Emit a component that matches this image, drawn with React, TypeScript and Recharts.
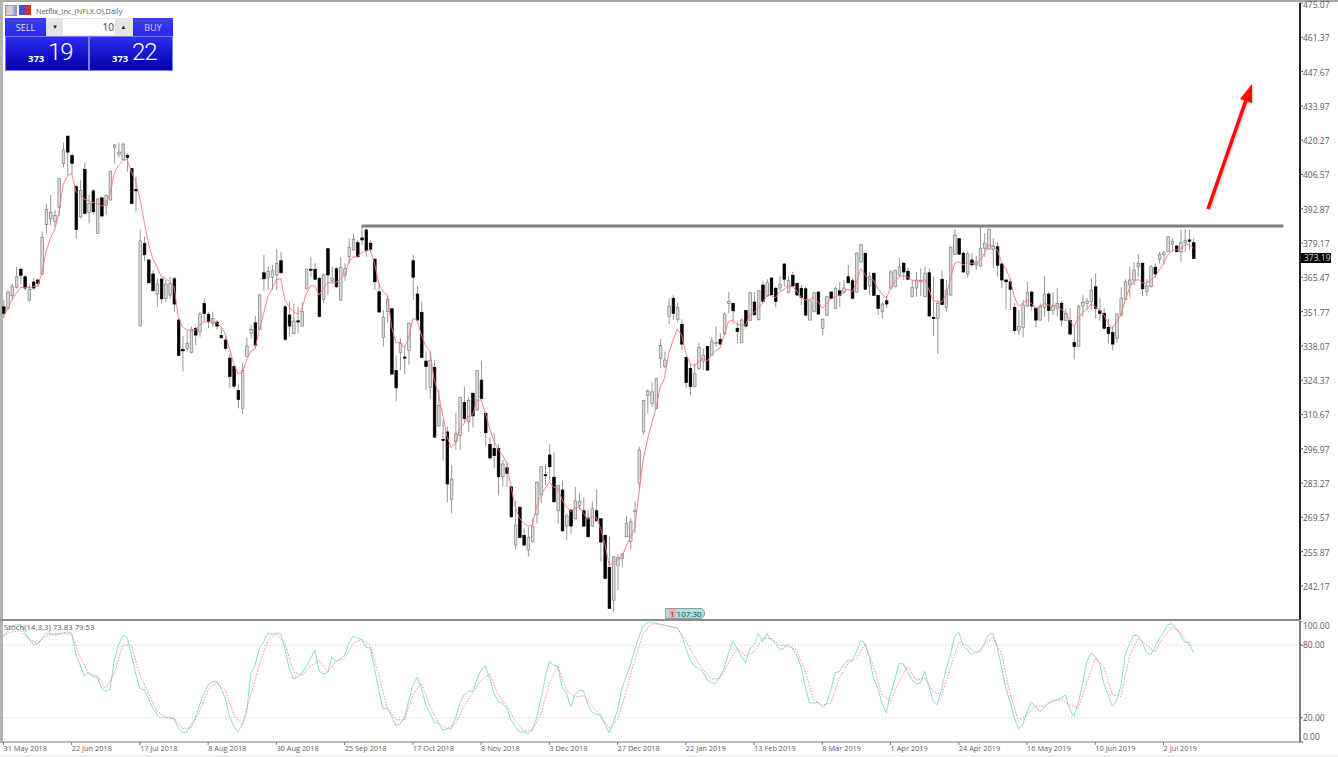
import { Bar, ComposedChart, Line, LineChart, ReferenceLine, XAxis, YAxis } from "recharts";

// daily candles, 31 May 2018 .. mid Jul 2019
const opens = [353.7,353.1,358.1,361.5,368.7,365.7,356.4,363.6,364.4,366.8,386.5,388.8,387.8,393.4,411,421.9,414.2,401.7,389.7,408.6,391.4,400,383,397.2,394.2,396.4,417.4,414.7,412.6,414.2,408.9,400.6,346.1,379,372.4,366.8,358.8,364.8,357,358.4,364.9,348.4,336.7,337.1,335.5,345.1,343.7,355,350.7,347,347.6,342.3,340.4,333.2,329.8,320.2,313.1,333.8,343.1,347.3,344.7,367.3,365.5,365.5,366.4,372.1,353.7,350.4,343.1,348.1,346,361,368.7,368.7,365,356.7,376.9,364,368.9,356.4,366.4,373.7,376.4,379.3,381.2,384.4,379.1,372.7,359.7,341.5,351.8,352.9,328.2,335.5,333.6,336.2,372.1,358.8,351.5,332,321.5,329.4,306.1,300.7,303.7,276.8,299.8,302.2,315.5,307.8,319.1,312.5,324.4,311.1,298.7,297.1,297.1,285.8,289.4,281.8,258.5,273.6,262.4,256.5,259.9,270.8,278.5,286.6,294.5,285.6,272.2,280.5,266.1,272.5,269,274.4,272.2,269.3,266.1,272.2,269,262.4,249.6,236.5,250.4,253.2,261.8,259.9,272,283.2,303.7,318.2,315.1,313.1,333,329.8,349.8,357.1,348.7,346.7,333.5,329,321.8,329.1,332,337.8,334.4,339.1,340.7,342.8,355.1,355.1,345.1,339.4,352.2,348.2,355.6,348.7,362.4,358,365.2,361.1,361.2,370.8,359.4,366.3,363.1,361.1,360.9,348.4,351.8,359.6,345,350.4,359.6,353.1,360.1,359.6,365.7,364.1,359.6,371.6,375.1,362,367.1,358.3,351.8,356.1,361.2,361.7,366.4,371.1,367.9,357.7,361.2,363.9,357.7,367.3,349.5,349,364.7,353.5,358.4,374.7,380.9,375.1,366.8,372.4,370.4,370,377.1,376.7,376.7,377.7,370.8,364.4,363.7,353.5,344.2,345.5,354,359.6,353.1,348.4,353.5,358.8,352.2,353.1,355.1,348.2,348.2,339.4,338,354,355.1,355.8,361.7,352.1,351.1,345.5,343.4,341.1,350.4,356.7,362.5,364.4,369.7,371.1,359.9,361.7,369.5,372.7,374.5,375.7,378.8,378,375.7,379.3,380.4,379.3];
const highs = [356.4,360.4,362.8,369.7,369.4,366.3,362.4,365,364.7,383.7,394.8,398.4,392.4,405,419.3,421.9,415,402.4,404.3,411.3,398.4,400.6,397,397.7,398.6,408,418.7,419.3,419.5,415,409.1,405.7,384.6,381.7,372.6,368.4,365,365,364.4,365.7,365.7,349,342,344.4,345.7,345.7,351.7,357,351.7,351.7,348.4,345.7,342,335.1,330.4,323,331.3,341.5,346.3,350,358.8,374.4,370,370.4,376.6,375.7,354.4,355.7,355,353.7,355.5,369,373.7,371.1,365.7,367.1,377,369.7,369.5,373.5,371.1,381.1,383,380.4,386.4,384.9,380.4,373.1,363.1,352.4,358.4,353.2,334,341.1,337.8,347.4,374.5,362,355.7,335.8,335.8,332.4,320.5,308.5,305.8,290.3,311.4,317.8,321.8,317.8,319.8,328.4,331.9,311.8,301.5,303.1,298.9,292.5,291.8,282.1,276.2,273.8,265.2,265.8,269.2,283.9,290.1,290.8,298.7,295.5,282.6,284.2,271.2,272.8,281.8,279.2,277.6,272.5,276,280.8,269.3,262.6,261.8,254.1,254.9,255.2,270.1,269.2,275.8,297.8,316.4,320.9,323.4,325.2,340.8,335.8,357.1,358.5,355.4,348.7,333.8,331.1,331.1,339.4,337.1,338,341.5,346,343.1,351.4,359.7,355.4,347.8,349,352.4,359.7,359.6,360.4,364.1,364.7,365.5,361.7,366,371.1,366,367.7,363.3,362.4,361.7,356.7,359.6,359.9,349.1,358,360,361.7,363.6,364.4,370.4,365.1,375.5,378.8,375.3,367.7,367.3,358.4,355.6,358,368.4,368.7,373.2,371.7,369.5,364.4,367.6,369,369.7,369,365.7,356.4,368.1,364.4,377.7,384.7,381.2,375.7,375.7,375.1,374,385.7,383.1,384.9,381.1,379.6,371.3,364.9,365.1,355.1,352.4,356.4,363.7,360.1,353.8,355.1,366,359.6,359.6,361.1,355.8,353.1,353.1,345.8,354.4,358.3,357.1,365.1,367.1,357.1,353.1,349.1,345.8,351.1,361.5,364.7,369.7,371.6,374.8,371.3,364.7,370.4,371.1,375.7,376.1,382,381.1,378.4,384.6,384.6,384.4,381.1];
const lows = [349.1,352.4,356.4,361,362.8,360.1,355.7,360.6,361.7,366.4,383,386.4,385.7,390,409.4,406.1,407,380.9,389,390.4,387,390.4,383,389.4,390.4,396,411,413.4,412.3,407.7,394.8,391.7,346,372.1,363,359.9,353.5,355,355.6,356.9,351.6,334,327.9,335.8,335.1,338.4,341.7,347.7,345.1,345.7,344.4,341,336.1,321.1,321.1,313.1,310.8,333.8,341,337.1,344.4,359.9,360.4,360.4,360.4,367,340.1,341.7,342.8,343.1,345.8,360.7,365.7,364.4,349.5,355.1,358.4,363,361.1,356,364.1,371.1,376.1,373.5,378.4,373.7,375.1,360.4,351.4,337.8,347.4,326.6,315.9,328.4,326.8,330.6,356.4,348.2,333.2,320.5,316.9,301.3,305.8,292.2,275.6,271.2,296.5,296.5,307.1,303.8,305.5,312.2,316.7,298.1,292.7,289.2,278.4,282.1,281.8,269.3,256.8,261.2,258.1,253.9,259.4,267.2,275.2,282.5,284.5,275.4,267.2,263.7,260.5,262.9,268.8,272.5,265.6,261.6,265.8,268,251.9,244.9,232.9,231.5,240.5,249.6,261.6,256.8,263.2,281.2,302.6,311.1,313.8,312.9,329.1,329.1,346.8,348.4,347.4,336.4,321.1,318.4,321.5,328.4,328.4,328.2,334.2,337.8,338.4,342.6,351.1,347.1,339.1,339.1,345,347.9,350.3,348.2,355.4,357.8,358.3,353.5,360.1,361.7,359.1,361.7,358,354.4,350,348.2,351.5,350.6,342.3,349.8,356.8,352.8,353.5,358.8,363.1,356.7,359.3,371.3,360.4,358.4,358,350.4,349,353.1,360.7,361.5,365.7,364.4,364.4,357.5,357.7,358,357.5,349.8,342,334.8,354.3,351.7,358,374.4,374.4,367.3,365.5,369.7,368.4,369.7,373.7,376.4,369.1,365.7,361.1,352.7,352.4,343.1,342.4,341.5,353.5,352.1,345.5,347.9,349.8,347.6,350.4,349.8,345.8,347.9,342.4,332.7,337.8,349.8,352.4,352.4,349.1,348.2,344.8,339.1,336.2,339.5,349.8,356.4,357.5,362.3,365.7,358,358,361.5,365.5,371.1,370.4,375.5,375.7,375.5,371.5,375.7,376.4,372.7];
const closes = [351.1,359.5,362,365.7,366.3,361.2,360.6,361.2,363,381.4,392.6,391.4,390.2,405,416.3,415.5,411,384.6,400.1,391,395,391.7,396.8,390,398.2,407.8,418.3,415.5,418.7,413.4,395,400,380,374.5,363.3,360.1,362.8,356.9,362.8,363,354.8,334.3,336.1,339.1,344.7,342.4,350.8,351,347.7,349,346,341.3,337.1,325.8,322,316.7,328.2,338,344.7,338.4,358.4,364.9,367.8,368.1,371,367.3,340.7,346,348,347.6,351.8,368.8,368.3,364.7,349.8,366.4,366.4,365.1,361.7,369.5,368.9,377.5,380.7,373.7,380.4,376.1,376.7,363.7,351.6,349.5,356.7,326.8,321.3,339.1,333.2,347.1,365.5,348.4,333.5,329.8,332.2,301.6,314.2,300.3,282.9,284.9,302.9,317.4,309.1,316.2,310.1,328.2,317.1,303.4,293.3,294.2,285.8,290.9,287.1,269.8,266.5,261.6,258.5,261.6,265.8,283.5,289.8,286.3,289.8,275.8,282.3,264.2,270.1,266.1,276.2,276,266.1,261.8,273,268.2,259.7,245.2,233.2,253.8,253.6,254.9,267.2,267.8,272.2,296.5,316.2,320,319.7,325,338.2,332.4,354,351.1,353.5,338.8,323.4,321.8,326.9,337.5,334.4,328.4,340,339.4,338.8,350.8,355.8,352.1,343.8,348.4,346,359.3,350.5,360.1,355.8,363.3,358.5,355.8,362.7,364.7,364.1,362,358.4,357.4,350.4,356.1,359.3,350.8,348.8,357.7,357.1,361.1,358.3,361.2,363.3,357.1,375.1,378.5,360.7,365.7,358.3,353,354.8,354.8,367.6,368.1,369.7,367.6,364.7,361.4,364.4,364.1,367.1,350,349,355.1,354.6,360.1,377.5,382.3,374.7,367.6,374.8,370.5,371.7,377.1,379.1,384.7,378,370.3,364.4,363.7,360.7,344.2,345.8,354.4,359.3,354,348.4,354,358.8,352.2,354,355.1,348.4,351.1,342.8,337.8,353.8,355.4,356,360.4,353.1,351.1,345.1,343.1,338.8,350.8,357.2,363.6,364.4,368.4,371.1,360.9,362,369.7,366.8,374.5,375.3,381.7,379.9,375.7,379.3,380.1,379.9,373];
const maValues = [349.7,353,356.4,359,361.4,361.4,361.3,361.7,362,367,375.7,381,384.4,391,402.4,406,407,399.7,399,396.6,396,395.3,395,394,394.8,399,407,410.3,412,412.6,407.7,403.7,397,387.7,379,373,369.7,365.7,365,363.7,361.7,349.7,345.7,344.4,344.1,344.4,346.4,347.7,347.7,347.7,347.3,345.7,343,337,331,327,327.3,332.4,335.8,337,344.4,351,357.7,361,364.4,365,356.4,353.7,351.7,350.8,353,359,362,362.1,358.4,361,363.3,363.3,363.3,364.7,366.4,371.7,373.7,373.7,375.3,376.1,376.4,371.1,363.1,359.7,358.4,345.8,339.4,339.5,337.5,341.1,349,348.4,342.4,338,336.2,324.4,319.1,310.5,301.8,297.5,299.4,305.1,307.1,309.8,310.5,316.2,316.5,311.1,305.1,300.2,296.7,294.5,291.2,281.8,273.8,269.2,267.2,266.1,266.5,273.8,278.5,281.2,283.7,281.6,281.2,276.5,273.8,271.8,273.2,273.8,271.2,268.8,269.8,269.6,265.2,259.2,250.5,251.4,252.5,253.9,257.9,261.8,265.2,279.2,292.5,300.5,307.1,313.1,321.8,325.1,335.1,340.4,344.7,342.4,335.1,331.1,330,331.8,333,332,334.4,336.2,337.1,342.4,347.8,348.4,346.7,346.4,346.4,350.4,351.5,353.1,355.1,358.4,358.1,357.3,359.7,360.7,362,361.7,360.1,357.5,356.4,356.7,357.5,355.7,353.1,355.1,356.7,357.7,358.4,359.4,360.7,359.7,363.1,369,366.4,364.7,364.4,361.1,358.8,357.1,361.1,363.7,365.7,366.1,365.5,364.4,364.1,364,364.7,360.4,356.4,355.7,355.7,358.4,364.4,371.1,371.7,370.4,371.3,371.1,370.8,372.4,375.1,378.4,378,376.4,371.7,369,365.1,357.7,354,355.1,356.2,355.1,353.1,353.5,355.1,354.4,354,354.4,352.7,351.4,348.4,345.8,349.1,351.4,352.7,354.8,353.7,352.4,350.4,347.1,345.1,347.8,350.4,356.4,361.1,363.7,364.7,363.3,363.1,364.4,365.7,368.4,371.1,374.4,376.1,376.4,377,378.4,378.8,377];

const stochMain = [87,92,96,97,97,90,85.5,80.6,80.8,85.5,89.6,90,88,89,90,91,90,71.8,63.6,54,58,54,53.5,44.5,41.8,43.7,67.7,80,88.2,86.3,71.8,56.8,44,43.1,36.3,28.1,22.6,19.9,19.9,19.9,19.1,11.7,7.6,8.2,14.4,19.9,30.8,40.4,47.2,50.2,50,44.5,36.3,21.3,13.1,8.4,14.4,24,56.8,63.6,77.3,82.7,90.1,89,90,89.6,77.3,60.9,52.1,54,56.8,62.3,69,75.9,58.7,56.2,57.3,70.4,66.4,68.8,71.8,81.4,87.4,86,84.7,78.1,77.8,60.9,43.1,27.3,28.1,21.3,13.6,14.7,19.9,33.6,47.2,53.5,44.5,30.8,24,16.4,15.3,9.8,10.9,10.9,19.9,32.2,39,42.3,41.8,51.3,59.5,62.8,52.7,40.4,33.6,32.2,28.1,18.5,13.1,8.2,8.2,7.1,9.8,19.9,34.9,52.7,66.4,63.6,62.3,45.3,40.4,28.9,39,42.6,42.6,30.8,24.6,22.6,22.6,14.4,7.6,15.8,26.7,43.7,54.1,63.6,75.9,86.8,95.6,98.6,98.6,98.3,97.2,96.4,95.6,95,94.5,88.2,77.3,67.7,62.8,60.9,58.2,51.3,49.1,48.6,54.1,60.9,73.2,83.6,77.3,70.5,65.5,77.3,80,89.6,82.8,89.6,84.7,81.4,76.5,77.3,80.8,77.3,71.8,62.3,45.9,32.2,32.2,32.7,28.7,31.7,43.1,57.3,58.2,63.6,67.7,67.2,74.6,84.1,81.4,70.5,52.7,44.5,32.2,24,40.4,51.3,65,64.4,58.2,51.3,48,48.6,58.7,45.9,33.6,30.8,44.5,59.5,71.8,86.8,90.9,80,75.9,72.4,74.5,74.5,81.4,89,89.6,78.6,62.3,44.5,33.6,19.9,10.9,14.4,25.4,33,28.9,25.1,28.1,32.2,34.4,34.9,36.3,38.8,26.7,21.3,32.2,47.2,66.4,73.2,70.5,65,48.6,39,29.5,34.4,45.9,71.8,81.4,88.2,88.2,82.7,73.7,72.4,78.6,85.5,90.9,97,97.8,93.7,88.2,82.5,82.2,73.8];
// signal
const stochSignal = [88.2,91,92,84.7,81.4,87.4,89.6,90,88.2,70.4,56,54.9,44,56.8,80,80,55.4,40.4,25.4,20.4,19.9,10.9,11.7,25.4,43.1,49.1,43.1,22.6,13.9,39,63.6,84,89.6,81.4,58.2,54.9,62.8,67.7,57.6,66.4,69.1,81.4,84.7,80,55.4,28.1,18.5,18,39,48.6,29.5,15.8,11.2,15.3,29.5,40.4,51.3,56.2,39,30,17.2,9,9.8,22.6,48.6,62.8,43.1,37.1,38.2,30,21.3,11.7,18.5,41.8,67.7,89.6,97.8,97.2,95.6,93.7,84.1,70.5,60,51.9,52.7,65,77.3,71,74.6,85.5,85.5,80,79.5,75.9,58.2,34.9,30.8,32.2,52.7,65,69.1,80.8,62.3,39,33.6,50,62.3,51.3,52.7,41.8,39,60.9,82.7,80,73.2,80,86.8,73.2,40.4,17.2,22.6,29.5,29.5,33.6,34.9,30.8,28.1,48.6,69.1,62.3,39,37.7,70.5,85.5,80,74.5,86.8,95,90.9,80];

const priceTicks = [475.07,461.37,447.67,433.97,420.27,406.57,392.87,379.17,365.47,351.77,338.07,324.37,310.67,296.97,283.27,269.57,255.87,242.17];
const lastPrice = 373.19;
const resistance = 386;
const dateLabels = ["31 May 2018","22 Jun 2018","17 Jul 2018","8 Aug 2018","30 Aug 2018","25 Sep 2018","17 Oct 2018","8 Nov 2018","3 Dec 2018","27 Dec 2018","22 Jan 2019","13 Feb 2019","8 Mar 2019","1 Apr 2019","24 Apr 2019","16 May 2019","10 Jun 2019","2 Jul 2019"];
const stochTicks = [0,20,80,100];

const BAR_DOMAIN: [number, number] = [-0.1, 304];
const PRICE_DOMAIN: [number, number] = [228.56, 475.07];
const FONT = "'Open Sans', sans-serif";
const TEXT = "#5a5a5a";

const candles = opens.map((o, i) => ({ i, o, c: closes[i], range: [lows[i], highs[i]], ma: maValues[i] }));
const stochData = stochMain.map((main, i) => ({
  i,
  main,
  signal: i % 2 === 0 ? stochSignal[i / 2] : null,
}));

function Candle(props: any) {
  const { x, y, width, height, payload } = props;
  const [low, high] = payload.range;
  const toY = (v: number) => y + ((high - v) / (high - low)) * height;
  const cx = x + width / 2;
  const up = payload.c >= payload.o;
  const top = toY(Math.max(payload.o, payload.c));
  const bottom = toY(Math.min(payload.o, payload.c));
  return (
    <g>
      <line x1={cx} x2={cx} y1={y} y2={y + height} stroke="#8c8c8c" strokeWidth={0.9} />
      <rect
        x={cx - 1.3}
        y={top}
        width={2.6}
        height={Math.max(bottom - top, 1)}
        fill={up ? "#dcdcdc" : "#000"}
        stroke={up ? "#808080" : "#000"}
        strokeWidth={0.7}
      />
    </g>
  );
}

function PriceTick({ x, y, payload }: any) {
  if (payload.value === lastPrice) {
    return (
      <g>
        <rect x={x - 3} y={y - 5} width={30} height={10} fill="#000" />
        <text x={x} y={y + 3} fontSize={8.5} fontFamily={FONT} fill="#ddd">{lastPrice.toFixed(2)}</text>
      </g>
    );
  }
  // top label is pushed just inside the window
  const nudge = payload.value === priceTicks[0] ? 5 : 4;
  return <text x={x - 1} y={y + nudge} fontSize={8.5} fontFamily={FONT} fill={TEXT}>{payload.value.toFixed(2)}</text>;
}

function StochTick({ x, y, payload }: any) {
  // the end labels sit inside the panel
  const nudge = payload.value === 100 ? 5 : payload.value === 0 ? -5 : 0;
  return <text x={x - 1} y={y + 3 + nudge} fontSize={8.5} fontFamily={FONT} fill={TEXT}>{payload.value.toFixed(2)}</text>;
}

function DateTick({ x, y, payload }: any) {
  return <text x={x} y={y + 6} fontSize={7.4} fontFamily={FONT} fill={TEXT}>{dateLabels[payload.value / 16]}</text>;
}

const abs = (left: number, top: number, width: number, height: number): React.CSSProperties => ({
  position: "absolute", left, top, width, height, boxSizing: "border-box",
});

function TradePanel() {
  const blue = "linear-gradient(#3d3df5, #2a2ae8)";
  const deep = "linear-gradient(#2c2cf0, #0000a8)";
  const center: React.CSSProperties = { display: "flex", alignItems: "center", justifyContent: "center" };
  const price = (left: number, big: string) => (
    <div style={{ ...abs(left, 36, 84, 35), background: deep, border: "1px solid #7c7cf5", color: "#fff" }}>
      <span style={{ position: "absolute", left: 22, top: 15, fontSize: 9.5, fontWeight: 700 }}>373</span>
      <span style={{ position: "absolute", left: 42, top: -1, fontSize: 24, fontWeight: 300, letterSpacing: -1, fontFamily: "Roboto, sans-serif", lineHeight: "32px" }}>{big}</span>
    </div>
  );
  return (
    <div style={{ fontFamily: FONT }}>
      <div style={{ ...abs(5, 5, 12, 11), background: "linear-gradient(90deg,#f0b0a8,#d8d8e8 50%,#9090e0)", border: "1px solid #999" }} />
      <div style={{ ...abs(19, 5, 6, 10), background: "#4050d8" }} />
      <div style={{ ...abs(25, 5, 6, 10), background: "#d83028" }} />
      <div style={{ position: "absolute", left: 36, top: 5, fontSize: 7.3, color: "#555", lineHeight: "12px" }}>Netflix_Inc_(NFLX.O),Daily</div>
      <div style={{ ...abs(5, 18, 41, 18), ...center, background: blue, color: "#dfe0ff", fontSize: 9 }}>SELL</div>
      <div style={{ ...abs(46, 18, 87, 18), background: "#e4e4e4" }} />
      <div style={{ ...abs(48, 20, 14, 14), ...center, fontSize: 6, color: "#222" }}>▼</div>
      <div style={{ ...abs(63, 19, 52, 16), background: "#fff", color: "#444", fontSize: 10, textAlign: "right", paddingRight: 1, lineHeight: "16px" }}>10</div>
      <div style={{ ...abs(116, 20, 15, 14), ...center, fontSize: 6, color: "#222" }}>▲</div>
      <div style={{ ...abs(133, 18, 40, 18), ...center, background: blue, color: "#c8c8ff", fontSize: 9 }}>BUY</div>
      {price(5, "19")}
      {price(89, "22")}
    </div>
  );
}

function TimeTag() {
  return (
    <div style={{ ...abs(665, 608, 40, 11), background: "#a4e6e6", border: "1px solid #999", borderRadius: "0 5px 5px 0", fontFamily: FONT, fontSize: 8, lineHeight: "9px", color: "#333", whiteSpace: "nowrap", overflow: "hidden" }}>
      <span style={{ background: "#f0a8a8", padding: "0 1px", marginLeft: 3 }}>1</span>
      <span style={{ marginLeft: 1 }}>107:30</span>
    </div>
  );
}

export default function App() {
  return (
    <div style={{ position: "fixed", left: 0, top: 0, width: 1338, height: 757, background: "#fff", overflow: "hidden" }}>
      <div style={{ ...abs(0, 0, 1338, 2), background: "#a8a8a8" }} />
      <div style={{ ...abs(0, 0, 3, 743), background: "#b4b4b4" }} />
      <div style={{ ...abs(0, 755, 1338, 2), background: "#f0f0f0" }} />

      <div style={abs(0, 0, 1338, 620)}>
        <ComposedChart width={1338} height={620} data={candles} margin={{ top: 3, right: 0, bottom: 0, left: 3 }}>
          <XAxis dataKey="i" type="number" domain={BAR_DOMAIN} hide />
          <YAxis
            orientation="right"
            width={38}
            domain={PRICE_DOMAIN}
            ticks={[...priceTicks, lastPrice]}
            interval={0}
            allowDataOverflow
            tick={<PriceTick />}
            tickSize={3}
            tickMargin={1}
            axisLine={{ stroke: "#222", strokeWidth: 2 }}
            tickLine={{ stroke: "#555" }}
          />
          <Bar dataKey="range" barSize={3} shape={<Candle />} isAnimationActive={false} />
          <Line dataKey="ma" type="linear" stroke="#ff7474" strokeWidth={0.9} dot={false} isAnimationActive={false} />
          <ReferenceLine
            segment={[{ x: 84, y: resistance }, { x: 300.1, y: resistance }]}
            stroke="#808080"
            strokeWidth={3}
          />
        </ComposedChart>
      </div>

      <div style={{ ...abs(0, 619, 1300, 2), background: "#8c8c8c" }} />

      <div style={abs(0, 621, 1338, 134)}>
        <LineChart width={1338} height={134} data={stochData} margin={{ top: 0, right: 0, bottom: 0, left: 3 }}>
          <XAxis
            dataKey="i"
            type="number"
            height={13}
            domain={BAR_DOMAIN}
            ticks={dateLabels.map((_, k) => k * 16)}
            interval={0}
            tick={<DateTick />}
            tickSize={3}
            tickMargin={0}
            axisLine={{ stroke: "#777" }}
            tickLine={{ stroke: "#777" }}
          />
          <YAxis
            orientation="right"
            width={38}
            domain={[0, 100]}
            ticks={stochTicks}
            interval={0}
            tick={<StochTick />}
            tickSize={3}
            tickMargin={1}
            axisLine={{ stroke: "#555", strokeWidth: 1.5 }}
            tickLine={{ stroke: "#555" }}
          />
          <ReferenceLine y={80} stroke="#cfcfcf" strokeDasharray="1 2" />
          <ReferenceLine y={20} stroke="#cfcfcf" strokeDasharray="1 2" />
          <Line dataKey="main" type="linear" stroke="#86dcd6" strokeWidth={1} dot={false} isAnimationActive={false} />
          <Line dataKey="signal" type="linear" connectNulls stroke="#ff8888" strokeWidth={1} strokeDasharray="1.5 1.5" dot={false} isAnimationActive={false} />
        </LineChart>
      </div>

      <div style={{ position: "absolute", left: 4, top: 622, fontSize: 7.8, lineHeight: "11px", color: "#555", fontFamily: FONT }}>Stoch(14,3,3) 73.83 79.53</div>

      <svg style={{ position: "absolute", left: 0, top: 0, pointerEvents: "none", filter: "drop-shadow(1px 1px 1px rgba(0,0,0,0.25))" }} width={1338} height={757}>
        <line x1={1208} y1={209} x2={1246} y2={100} stroke="#fb0d0d" strokeWidth={3.5} />
        <polygon points="1252,84 1240,99 1252,103" fill="#fb0d0d" />
      </svg>

      <TimeTag />
      <TradePanel />
    </div>
  );
}
